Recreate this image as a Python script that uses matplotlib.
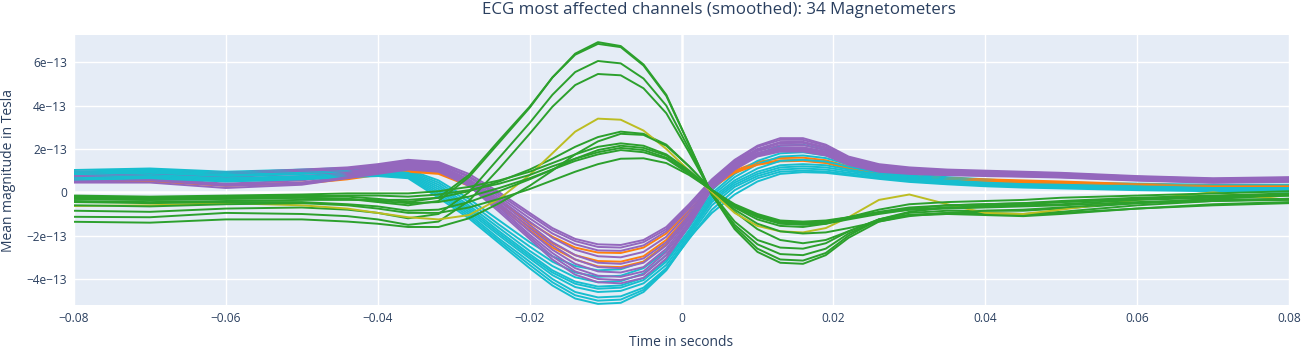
import numpy as np
import matplotlib
matplotlib.use("Agg")
import matplotlib.pyplot as plt

plt.rcParams['font.family'] = ['Open Sans', 'DejaVu Sans']

# time axis (seconds)
t = [-0.08, -0.07, -0.06, -0.05, -0.044, -0.04, -0.036, -0.032, -0.028, -0.024, -0.02, -0.017,
     -0.014, -0.011, -0.008, -0.005, -0.002, 0.001, 0.004, 0.007, 0.01, 0.013, 0.016, 0.019,
     0.022, 0.026, 0.03, 0.035, 0.04, 0.045, 0.05, 0.06, 0.07, 0.08]

# channel values, in units of 1e-13 T
purple_lines = [
    [0.95, 1.00, 0.90, 1.05, 1.15, 1.30, 1.50, 1.40, 0.85, 0.00, -0.95, -1.65, -2.15, -2.40, -2.43, -2.20, -1.60, -0.55, 0.60, 1.50, 2.15, 2.50, 2.50, 2.20, 1.65, 1.30, 1.15, 1.05, 1.00, 0.95, 0.90, 0.75, 0.65, 0.70],
    [0.90, 0.95, 0.85, 1.00, 1.10, 1.25, 1.45, 1.35, 0.75, -0.10, -1.05, -1.75, -2.25, -2.52, -2.55, -2.30, -1.70, -0.65, 0.55, 1.45, 2.10, 2.42, 2.42, 2.15, 1.60, 1.25, 1.10, 1.00, 0.95, 0.92, 0.87, 0.72, 0.62, 0.67],
    [0.85, 0.90, 0.80, 0.95, 1.05, 1.20, 1.40, 1.30, 0.70, -0.20, -1.20, -1.90, -2.40, -2.68, -2.70, -2.45, -1.80, -0.75, 0.50, 1.40, 2.00, 2.32, 2.33, 2.08, 1.55, 1.20, 1.05, 0.97, 0.92, 0.88, 0.84, 0.70, 0.60, 0.64],
    [0.80, 0.85, 0.70, 0.85, 0.95, 1.15, 1.35, 1.25, 0.60, -0.30, -1.35, -2.10, -2.65, -2.95, -3.00, -2.75, -2.05, -0.90, 0.45, 1.35, 1.95, 2.27, 2.28, 2.02, 1.50, 1.15, 1.02, 0.94, 0.90, 0.86, 0.82, 0.68, 0.58, 0.62],
    [0.75, 0.80, 0.60, 0.75, 0.90, 1.10, 1.30, 1.20, 0.55, -0.40, -1.50, -2.30, -2.90, -3.25, -3.30, -3.05, -2.30, -1.05, 0.40, 1.30, 1.90, 2.18, 2.18, 1.95, 1.45, 1.10, 0.98, 0.90, 0.87, 0.84, 0.80, 0.66, 0.55, 0.60],
    [0.70, 0.75, 0.50, 0.65, 0.85, 1.05, 1.25, 1.15, 0.50, -0.50, -1.65, -2.45, -3.10, -3.45, -3.50, -3.25, -2.45, -1.15, 0.35, 1.25, 1.82, 2.08, 2.08, 1.88, 1.40, 1.05, 0.95, 0.88, 0.84, 0.80, 0.76, 0.63, 0.53, 0.57],
    [0.60, 0.65, 0.40, 0.55, 0.80, 1.00, 1.20, 1.10, 0.45, -0.60, -1.80, -2.65, -3.30, -3.65, -3.70, -3.45, -2.60, -1.25, 0.30, 1.20, 1.78, 2.03, 2.03, 1.83, 1.37, 1.03, 0.93, 0.85, 0.82, 0.78, 0.74, 0.60, 0.50, 0.55],
    [0.55, 0.60, 0.35, 0.45, 0.75, 0.95, 1.15, 1.05, 0.40, -0.70, -1.95, -2.80, -3.50, -3.85, -3.90, -3.65, -2.75, -1.35, 0.25, 1.15, 1.74, 1.98, 1.98, 1.78, 1.33, 1.00, 0.90, 0.83, 0.80, 0.76, 0.72, 0.58, 0.48, 0.53],
    [0.50, 0.55, 0.30, 0.40, 0.70, 0.90, 1.10, 1.00, 0.35, -0.80, -2.05, -2.95, -3.65, -4.00, -4.05, -3.80, -2.90, -1.45, 0.20, 1.10, 1.70, 1.93, 1.93, 1.74, 1.30, 0.98, 0.88, 0.81, 0.78, 0.74, 0.70, 0.56, 0.46, 0.51],
    [0.45, 0.45, 0.20, 0.35, 0.65, 0.85, 1.05, 0.95, 0.30, -0.90, -2.15, -3.10, -3.80, -4.15, -4.20, -3.95, -3.05, -1.55, 0.15, 1.05, 1.65, 1.88, 1.88, 1.70, 1.27, 0.95, 0.85, 0.79, 0.75, 0.72, 0.68, 0.54, 0.44, 0.48],
]
orange_lines = [
    [0.75, 0.70, 0.55, 0.70, 0.80, 0.95, 1.10, 1.00, 0.45, -0.40, -1.40, -2.05, -2.55, -2.78, -2.80, -2.55, -1.90, -0.85, 0.30, 1.00, 1.40, 1.58, 1.60, 1.48, 1.20, 0.90, 0.75, 0.65, 0.60, 0.55, 0.50, 0.38, 0.30, 0.30],
    [0.60, 0.55, 0.35, 0.45, 0.65, 0.85, 1.00, 0.90, 0.35, -0.55, -1.60, -2.35, -2.90, -3.17, -3.20, -2.95, -2.20, -1.00, 0.25, 0.95, 1.32, 1.48, 1.50, 1.40, 1.13, 0.85, 0.70, 0.60, 0.55, 0.50, 0.45, 0.35, 0.28, 0.28],
    [0.55, 0.50, 0.30, 0.40, 0.60, 0.80, 0.95, 0.85, 0.30, -0.65, -1.75, -2.55, -3.10, -3.42, -3.45, -3.20, -2.40, -1.10, 0.20, 0.90, 1.27, 1.43, 1.45, 1.35, 1.08, 0.80, 0.65, 0.55, 0.50, 0.45, 0.40, 0.30, 0.25, 0.25],
]
cyan_lines = [
    [1.03, 1.10, 0.95, 1.05, 1.12, 1.15, 1.05, 0.55, -0.30, -1.30, -2.30, -2.95, -3.40, -3.60, -3.55, -3.20, -2.40, -1.20, 0.10, 1.05, 1.75, 2.15, 2.20, 1.95, 1.50, 1.10, 0.85, 0.70, 0.60, 0.50, 0.45, 0.40, 0.35, 0.35],
    [0.95, 1.05, 0.90, 1.00, 1.07, 1.10, 1.00, 0.45, -0.45, -1.50, -2.50, -3.20, -3.70, -3.90, -3.85, -3.50, -2.70, -1.45, -0.05, 0.85, 1.45, 1.80, 1.85, 1.70, 1.35, 1.00, 0.78, 0.65, 0.55, 0.45, 0.40, 0.35, 0.30, 0.30],
    [0.90, 1.00, 0.85, 0.95, 1.02, 1.05, 0.95, 0.35, -0.60, -1.65, -2.70, -3.40, -3.92, -4.15, -4.10, -3.75, -2.90, -1.60, -0.15, 0.70, 1.30, 1.65, 1.70, 1.58, 1.28, 0.95, 0.74, 0.60, 0.50, 0.42, 0.38, 0.30, 0.25, 0.25],
    [0.85, 0.95, 0.80, 0.90, 0.97, 1.00, 0.90, 0.25, -0.70, -1.80, -2.85, -3.60, -4.12, -4.35, -4.30, -3.95, -3.10, -1.75, -0.25, 0.55, 1.10, 1.45, 1.50, 1.42, 1.18, 0.90, 0.70, 0.55, 0.45, 0.38, 0.35, 0.28, 0.20, 0.20],
    [0.80, 0.90, 0.75, 0.85, 0.92, 0.95, 0.85, 0.15, -0.80, -1.90, -2.95, -3.70, -4.22, -4.45, -4.40, -4.05, -3.20, -1.85, -0.35, 0.45, 0.95, 1.25, 1.30, 1.25, 1.05, 0.82, 0.65, 0.50, 0.40, 0.35, 0.30, 0.25, 0.18, 0.15],
    [0.70, 0.80, 0.65, 0.75, 0.85, 0.90, 0.80, 0.05, -0.90, -2.00, -3.05, -3.82, -4.37, -4.60, -4.55, -4.20, -3.35, -1.95, -0.45, 0.35, 0.85, 1.15, 1.20, 1.15, 0.98, 0.77, 0.60, 0.47, 0.38, 0.32, 0.28, 0.22, 0.15, 0.12],
    [0.65, 0.75, 0.60, 0.70, 0.80, 0.85, 0.75, -0.05, -1.00, -2.15, -3.20, -4.00, -4.60, -4.85, -4.80, -4.40, -3.50, -2.05, -0.60, 0.25, 0.75, 1.05, 1.10, 1.05, 0.90, 0.72, 0.56, 0.44, 0.35, 0.30, 0.25, 0.18, 0.12, 0.08],
    [0.60, 0.70, 0.55, 0.65, 0.75, 0.80, 0.70, -0.15, -1.10, -2.25, -3.35, -4.15, -4.75, -5.00, -4.95, -4.50, -3.55, -2.15, -0.80, 0.10, 0.65, 0.95, 1.00, 0.96, 0.83, 0.66, 0.52, 0.40, 0.32, 0.27, 0.22, 0.15, 0.08, 0.05],
    [0.55, 0.65, 0.50, 0.60, 0.70, 0.75, 0.65, -0.25, -1.20, -2.35, -3.50, -4.30, -4.90, -5.15, -5.10, -4.60, -3.60, -2.10, -0.95, -0.10, 0.50, 0.85, 0.93, 0.90, 0.78, 0.62, 0.48, 0.37, 0.28, 0.22, 0.18, 0.10, 0.05, 0.03],
]
olive_line = [-0.63, -0.60, -0.50, -0.60, -0.75, -0.95, -1.15, -1.25, -1.05, -0.30, 0.80, 1.80, 2.80, 3.40, 3.35, 2.85, 2.00, 1.00, 0.00, -0.95, -1.55, -1.80, -1.85, -1.65, -1.15, -0.35, -0.10, -0.55, -0.95, -1.00, -0.80, -0.35, 0.00, -0.35]
green_lines = [
    [-0.30, -0.35, -0.30, -0.25, -0.30, -0.45, -0.60, -0.40, 0.70, 2.30, 3.90, 5.30, 6.40, 6.93, 6.75, 5.90, 4.50, 2.20, -0.10, -1.70, -2.75, -3.25, -3.30, -2.90, -2.10, -1.35, -1.05, -0.95, -0.95, -1.00, -0.90, -0.60, -0.40, -0.30],
    [-0.20, -0.25, -0.20, -0.15, -0.20, -0.30, -0.45, -0.25, 0.80, 2.40, 3.95, 5.30, 6.35, 6.85, 6.70, 5.85, 4.45, 2.20, -0.10, -1.60, -2.60, -3.10, -3.15, -2.80, -2.00, -1.25, -0.95, -0.85, -0.85, -0.85, -0.75, -0.50, -0.30, -0.15],
    [-0.85, -0.90, -0.75, -0.70, -0.80, -0.95, -1.20, -1.00, 0.00, 1.60, 3.20, 4.50, 5.55, 6.06, 5.95, 5.25, 4.00, 2.00, -0.10, -1.50, -2.40, -2.85, -2.90, -2.60, -1.90, -1.30, -1.05, -1.00, -1.05, -1.10, -1.00, -0.75, -0.55, -0.45],
    [-1.13, -1.15, -0.95, -1.00, -1.10, -1.25, -1.50, -1.35, -0.40, 1.10, 2.70, 3.95, 4.95, 5.46, 5.40, 4.80, 3.65, 1.85, -0.05, -1.35, -2.20, -2.55, -2.60, -2.35, -1.80, -1.25, -1.05, -1.00, -1.00, -1.05, -0.95, -0.75, -0.60, -0.50],
    [-0.40, -0.45, -0.40, -0.35, -0.35, -0.35, -0.35, -0.25, 0.05, 0.50, 1.05, 1.55, 2.10, 2.55, 2.80, 2.70, 2.20, 1.20, 0.10, -0.90, -1.70, -2.20, -2.35, -2.20, -1.80, -1.25, -0.90, -0.70, -0.60, -0.55, -0.45, -0.30, -0.20, -0.10],
    [-1.36, -1.40, -1.25, -1.25, -1.35, -1.45, -1.60, -1.60, -1.20, -0.50, 0.30, 1.00, 1.75, 2.35, 2.70, 2.65, 2.15, 1.20, 0.10, -0.80, -1.45, -1.80, -1.90, -1.85, -1.65, -1.35, -1.10, -0.95, -0.85, -0.80, -0.70, -0.50, -0.40, -0.35],
    [-0.15, -0.20, -0.15, -0.10, -0.05, -0.05, -0.05, 0.05, 0.25, 0.55, 0.95, 1.35, 1.75, 2.10, 2.26, 2.15, 1.75, 1.00, 0.10, -0.70, -1.25, -1.55, -1.60, -1.45, -1.15, -0.80, -0.55, -0.45, -0.40, -0.35, -0.25, -0.15, -0.05, 0.05],
    [-0.45, -0.50, -0.45, -0.45, -0.55, -0.65, -0.85, -0.80, -0.45, 0.05, 0.60, 1.05, 1.55, 1.95, 2.15, 2.05, 1.70, 0.95, 0.10, -0.65, -1.15, -1.45, -1.50, -1.45, -1.25, -1.00, -0.80, -0.70, -0.65, -0.60, -0.55, -0.35, -0.25, -0.15],
    [-0.25, -0.30, -0.25, -0.20, -0.15, -0.15, -0.20, -0.10, 0.10, 0.40, 0.80, 1.20, 1.55, 1.85, 2.05, 1.95, 1.60, 0.90, 0.10, -0.60, -1.10, -1.40, -1.45, -1.40, -1.20, -0.95, -0.75, -0.60, -0.55, -0.50, -0.40, -0.25, -0.15, -0.05],
    [-0.30, -0.35, -0.30, -0.25, -0.30, -0.40, -0.50, -0.45, -0.20, 0.20, 0.65, 1.05, 1.45, 1.75, 1.95, 1.85, 1.55, 0.85, 0.10, -0.60, -1.05, -1.35, -1.40, -1.35, -1.15, -0.90, -0.70, -0.60, -0.55, -0.50, -0.45, -0.30, -0.20, -0.10],
    [-0.60, -0.65, -0.55, -0.50, -0.60, -0.75, -0.95, -0.95, -0.70, -0.30, 0.15, 0.55, 0.95, 1.30, 1.55, 1.57, 1.35, 0.80, 0.10, -0.55, -1.00, -1.30, -1.35, -1.30, -1.15, -0.95, -0.80, -0.75, -0.70, -0.65, -0.60, -0.45, -0.35, -0.30],
]

xtick_vals = [-0.08, -0.06, -0.04, -0.02, 0, 0.02, 0.04, 0.06, 0.08]
xtick_labels = ['\u22120.08', '\u22120.06', '\u22120.04', '\u22120.02', '0', '0.02', '0.04', '0.06', '0.08']
ytick_vals = [-4e-13, -2e-13, 0, 2e-13, 4e-13, 6e-13]
ytick_labels = ['\u22124e\u221213', '\u22122e\u221213', '0', '2e\u221213', '4e\u221213', '6e\u221213']

scale = 1e-13
fig = plt.figure(figsize=(13.07, 3.51), dpi=100)
ax = fig.add_axes([74/1307, 1-305/351, (1289-74)/1307, (305-35)/351])
ax.set_facecolor('#E5ECF6')

tt = np.array(t)
# negative-lobe channels interleaved, then the positive-lobe ones on top
neg = []
for i in range(len(purple_lines)):
    if i < len(cyan_lines):
        neg.append((cyan_lines[i], '#17becf'))
    neg.append((purple_lines[i], '#9467bd'))
    if i < len(orange_lines):
        neg.append((orange_lines[i], '#ff7f0e'))
for vals, col in neg:
    ax.plot(tt, np.array(vals) * scale, color=col, lw=1.4, solid_joinstyle='round')
for k, vals in enumerate(green_lines):
    ax.plot(tt, np.array(vals) * scale, color='#2ca02c', lw=1.4, solid_joinstyle='round')
    if k == 4:
        ax.plot(tt, np.array(olive_line) * scale, color='#bcbd22', lw=1.4, solid_joinstyle='round')

ax.set_xlim(-0.08, 0.08)
ax.set_ylim(-5.2e-13, 7.26e-13)
ax.set_xticks(xtick_vals)
ax.set_xticklabels(xtick_labels)
ax.set_yticks(ytick_vals)
ax.set_yticklabels(ytick_labels)
ax.grid(True, color='white', lw=1)
ax.set_axisbelow(True)
ax.axhline(0, color='white', lw=1.8, zorder=0.5)
ax.axvline(0, color='white', lw=1.8, zorder=0.5)
for s in ax.spines.values():
    s.set_visible(False)
ax.tick_params(length=0, labelsize=8.6, labelcolor='#2a3f5f', pad=5)

fig.text(719/1307, 1-10/351, 'ECG most affected channels (smoothed): 34 Magnetometers',
         ha='center', va='center', fontsize=12.2, color='#2a3f5f')
fig.text(681/1307, 1-342/351, 'Time in seconds', ha='center', va='center', fontsize=10, color='#2a3f5f')
fig.text(9/1307, 1-170/351, 'Mean magnitude in Tesla', ha='center', va='center', rotation=90,
         fontsize=10, color='#2a3f5f')

fig.savefig('out.png', dpi=100)
